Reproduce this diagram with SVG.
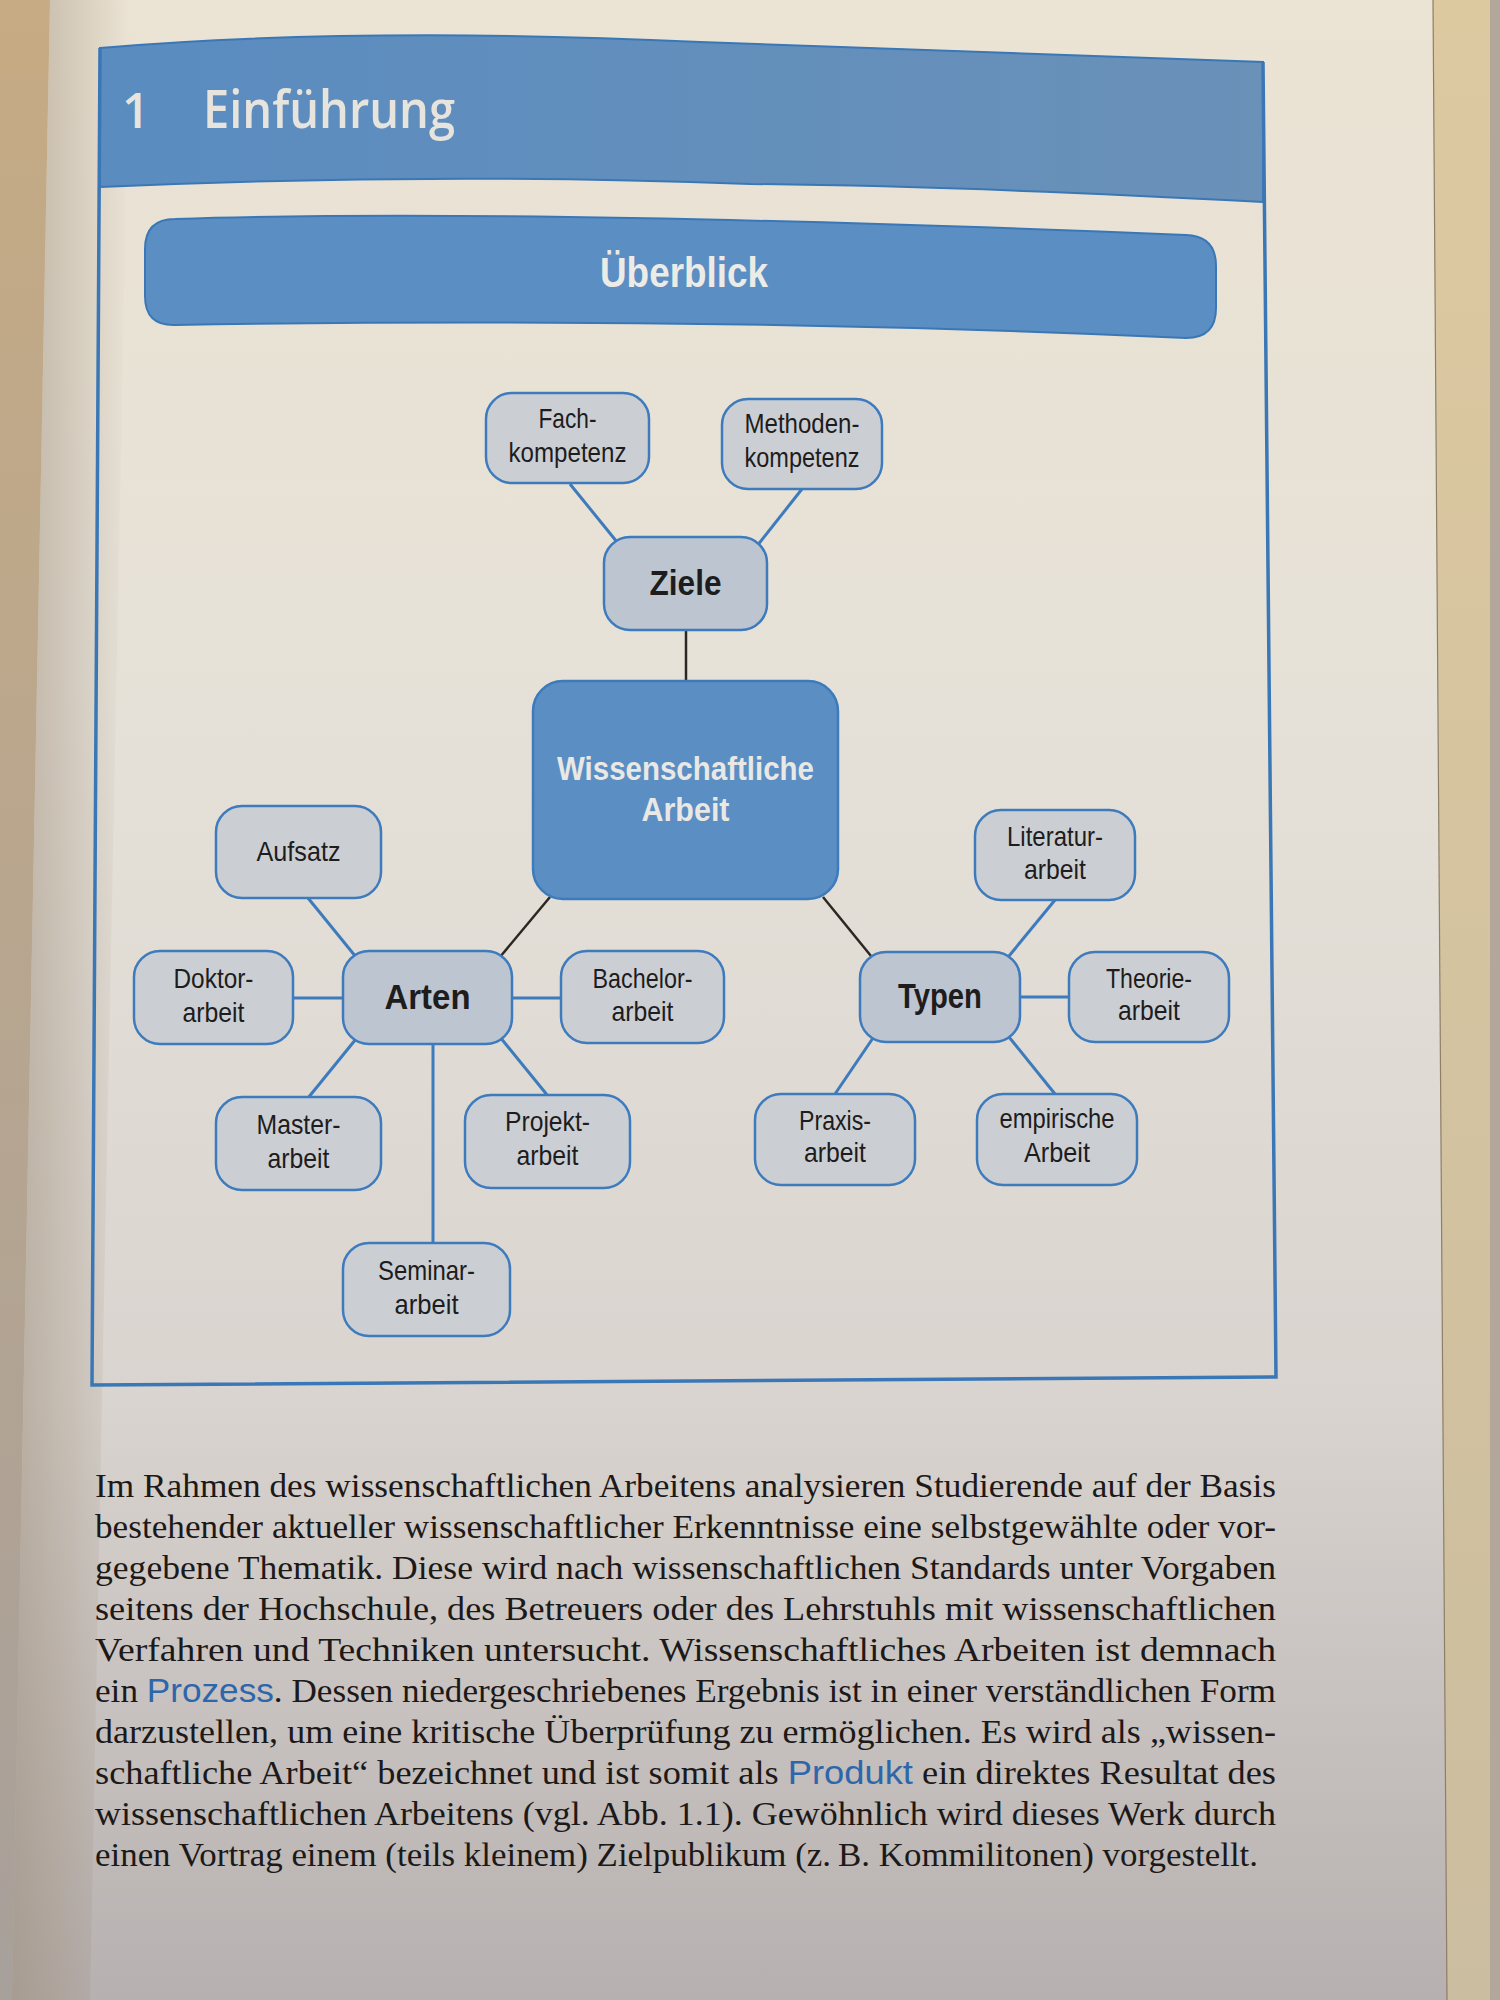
<svg xmlns="http://www.w3.org/2000/svg" width="1500" height="2000" viewBox="0 0 1500 2000">
<defs>
<linearGradient id="pageGrad" x1="0" y1="0" x2="0" y2="1">
<stop offset="0" stop-color="#ebe3d3"/>
<stop offset="0.35" stop-color="#e6e1d8"/>
<stop offset="0.7" stop-color="#d9d4cf"/>
<stop offset="1" stop-color="#b6b0b0"/>
</linearGradient>
<linearGradient id="leftShade" x1="0" y1="0" x2="1" y2="0">
<stop offset="0" stop-color="#9c8c78" stop-opacity="0.55"/>
<stop offset="1" stop-color="#9c8c78" stop-opacity="0"/>
</linearGradient>
<linearGradient id="edgeL" x1="0" y1="0" x2="0" y2="1">
<stop offset="0" stop-color="#c6ab84"/>
<stop offset="1" stop-color="#a8a09b"/>
</linearGradient>
<linearGradient id="edgeR" x1="0" y1="0" x2="0" y2="1">
<stop offset="0" stop-color="#ddc9a0"/>
<stop offset="1" stop-color="#cbbd9f"/>
</linearGradient>
<linearGradient id="bandGrad" x1="0" y1="0" x2="1" y2="0">
<stop offset="0" stop-color="#5a8cc0"/>
<stop offset="1" stop-color="#6a91b8"/>
</linearGradient>
</defs>
<style>
.leaf rect{fill:#cbcfd4;stroke:#3d7bbd;stroke-width:2.5}
.hub rect{fill:#bcc5d0;stroke:#3d7bbd;stroke-width:2.5}
.lt{font-family:"Liberation Sans",Arial,sans-serif;font-size:28px;fill:#1e1c1c;text-anchor:middle}
.ht{font-family:"Liberation Sans",Arial,sans-serif;font-size:35px;font-weight:bold;fill:#1e1c1c;text-anchor:middle}
.ct{font-family:"Liberation Sans",Arial,sans-serif;font-size:33px;font-weight:bold;fill:#e9e8e4;text-anchor:middle}
.cb{stroke:#3d7bbd;stroke-width:3;fill:none}
.ck{stroke:#2b2724;stroke-width:2.5;fill:none}
.body{font-family:"Liberation Serif","Times New Roman",serif;font-size:34px;fill:#1c1918}
.blue{font-family:"Liberation Sans",Arial,sans-serif;fill:#2d66aa}
</style>

<!-- background / page -->
<rect x="0" y="0" width="1500" height="2000" fill="#b3a69a"/>
<polygon points="1425,0 1490,0 1490,2000 1440,2000" fill="url(#edgeR)"/>
<polygon points="0,0 1433,0 1447,2000 0,2000" fill="url(#edgeL)"/>
<polygon points="50,0 1433,0 1447,2000 12,2000" fill="url(#pageGrad)"/>
<polygon points="50,0 130,0 90,2000 12,2000" fill="url(#leftShade)"/>
<path d="M1433,0 L1447,2000" stroke="#8e7f66" stroke-width="1.2" fill="none"/>

<!-- header band and frame -->
<g id="header">
<path d="M100,48 Q360,26 700,42 Q1000,52 1263,62 L1263,202 Q960,186 750,184 Q430,172 100,187 Z" fill="url(#bandGrad)" stroke="#3a77b6" stroke-width="2"/>
<text x="122" y="128" font-family="Open Sans, Liberation Sans, sans-serif" font-weight="600" font-size="48" fill="#e7e4dd">1</text>
<text x="203" y="128" font-family="Open Sans, Liberation Sans, sans-serif" font-weight="600" font-size="52" fill="#e7e4dd" textLength="252" lengthAdjust="spacingAndGlyphs">Einführung</text>
</g>
<path id="frame" d="M100,48 L92,1385 L1276,1377 L1263,62" fill="none" stroke="#3a77b6" stroke-width="3.5"/>

<g id="ueberblick">
<path d="M175,219 Q520,208 1186,235 Q1216,236 1216,266 L1216,308 Q1216,338 1186,338 Q700,316 175,325 Q145,326 145,296 L145,249 Q145,219 175,219 Z" fill="#5b8ec3" stroke="#3a77b6" stroke-width="2"/>
<text x="684" y="287" font-family="Liberation Sans, Arial, sans-serif" font-weight="bold" font-size="42" fill="#ecebe6" text-anchor="middle" textLength="168" lengthAdjust="spacingAndGlyphs">Überblick</text>
</g>

<!-- connectors -->
<g id="connectors">
<line class="cb" x1="570" y1="484" x2="617" y2="542"/>
<line class="cb" x1="802" y1="489" x2="757" y2="546"/>
<line class="ck" x1="686" y1="630" x2="686" y2="682"/>
<line class="ck" x1="550" y1="897" x2="500" y2="957"/>
<line class="ck" x1="823" y1="897" x2="871" y2="956"/>
<line class="cb" x1="308" y1="898" x2="356" y2="957"/>
<line class="cb" x1="293" y1="998" x2="344" y2="998"/>
<line class="cb" x1="512" y1="998" x2="561" y2="998"/>
<line class="cb" x1="308" y1="1098" x2="356" y2="1039"/>
<line class="cb" x1="548" y1="1096" x2="500" y2="1037"/>
<line class="cb" x1="433" y1="1043" x2="433" y2="1243"/>
<line class="cb" x1="1055" y1="900" x2="1009" y2="956"/>
<line class="cb" x1="1020" y1="997" x2="1069" y2="997"/>
<line class="cb" x1="873" y1="1038" x2="835" y2="1094"/>
<line class="cb" x1="1009" y1="1037" x2="1055" y2="1094"/>
</g>

<!-- nodes -->
<g id="fachkompetenz" class="leaf">
<rect x="486" y="393" width="163" height="90" rx="26"/>
<text class="lt" x="567.5" y="428" textLength="58" lengthAdjust="spacingAndGlyphs">Fach-</text>
<text class="lt" x="567.5" y="462" textLength="118" lengthAdjust="spacingAndGlyphs">kompetenz</text>
</g>
<g id="methodenkompetenz" class="leaf">
<rect x="722" y="399" width="160" height="90" rx="26"/>
<text class="lt" x="802" y="433" textLength="115" lengthAdjust="spacingAndGlyphs">Methoden-</text>
<text class="lt" x="802" y="467" textLength="115" lengthAdjust="spacingAndGlyphs">kompetenz</text>
</g>
<g id="ziele" class="hub">
<rect x="604" y="537" width="163" height="93" rx="26"/>
<text class="ht" x="685.5" y="595" textLength="72" lengthAdjust="spacingAndGlyphs">Ziele</text>
</g>
<g id="wissenschaftliche-arbeit">
<rect x="533" y="681" width="305" height="218" rx="30" fill="#5b8ec3" stroke="#3d7bbd" stroke-width="2.5"/>
<text class="ct" x="685.5" y="780" textLength="257" lengthAdjust="spacingAndGlyphs">Wissenschaftliche</text>
<text class="ct" x="685.5" y="821" textLength="88" lengthAdjust="spacingAndGlyphs">Arbeit</text>
</g>
<g id="aufsatz" class="leaf">
<rect x="216" y="806" width="165" height="92" rx="26"/>
<text class="lt" x="298.5" y="861" textLength="84" lengthAdjust="spacingAndGlyphs">Aufsatz</text>
</g>
<g id="doktorarbeit" class="leaf">
<rect x="134" y="951" width="159" height="93" rx="26"/>
<text class="lt" x="213.5" y="988" textLength="80" lengthAdjust="spacingAndGlyphs">Doktor-</text>
<text class="lt" x="213.5" y="1022" textLength="62" lengthAdjust="spacingAndGlyphs">arbeit</text>
</g>
<g id="arten" class="hub">
<rect x="343" y="951" width="169" height="93" rx="26"/>
<text class="ht" x="427.5" y="1009" textLength="86" lengthAdjust="spacingAndGlyphs">Arten</text>
</g>
<g id="bachelorarbeit" class="leaf">
<rect x="561" y="951" width="163" height="92" rx="26"/>
<text class="lt" x="642.5" y="988" textLength="100" lengthAdjust="spacingAndGlyphs">Bachelor-</text>
<text class="lt" x="642.5" y="1021" textLength="62" lengthAdjust="spacingAndGlyphs">arbeit</text>
</g>
<g id="masterarbeit" class="leaf">
<rect x="216" y="1097" width="165" height="93" rx="26"/>
<text class="lt" x="298.5" y="1134" textLength="84" lengthAdjust="spacingAndGlyphs">Master-</text>
<text class="lt" x="298.5" y="1168" textLength="62" lengthAdjust="spacingAndGlyphs">arbeit</text>
</g>
<g id="projektarbeit" class="leaf">
<rect x="465" y="1095" width="165" height="93" rx="26"/>
<text class="lt" x="547.5" y="1131" textLength="85" lengthAdjust="spacingAndGlyphs">Projekt-</text>
<text class="lt" x="547.5" y="1165" textLength="62" lengthAdjust="spacingAndGlyphs">arbeit</text>
</g>
<g id="seminararbeit" class="leaf">
<rect x="343" y="1243" width="167" height="93" rx="26"/>
<text class="lt" x="426.5" y="1280" textLength="97" lengthAdjust="spacingAndGlyphs">Seminar-</text>
<text class="lt" x="426.5" y="1314" textLength="64" lengthAdjust="spacingAndGlyphs">arbeit</text>
</g>
<g id="literaturarbeit" class="leaf">
<rect x="975" y="810" width="160" height="90" rx="26"/>
<text class="lt" x="1055" y="846" textLength="96" lengthAdjust="spacingAndGlyphs">Literatur-</text>
<text class="lt" x="1055" y="879" textLength="62" lengthAdjust="spacingAndGlyphs">arbeit</text>
</g>
<g id="typen" class="hub">
<rect x="860" y="952" width="160" height="90" rx="26"/>
<text class="ht" x="940" y="1008" textLength="84" lengthAdjust="spacingAndGlyphs">Typen</text>
</g>
<g id="theoriearbeit" class="leaf">
<rect x="1069" y="952" width="160" height="90" rx="26"/>
<text class="lt" x="1149" y="988" textLength="86" lengthAdjust="spacingAndGlyphs">Theorie-</text>
<text class="lt" x="1149" y="1020" textLength="62" lengthAdjust="spacingAndGlyphs">arbeit</text>
</g>
<g id="praxisarbeit" class="leaf">
<rect x="755" y="1094" width="160" height="91" rx="26"/>
<text class="lt" x="835" y="1130" textLength="72" lengthAdjust="spacingAndGlyphs">Praxis-</text>
<text class="lt" x="835" y="1162" textLength="62" lengthAdjust="spacingAndGlyphs">arbeit</text>
</g>
<g id="empirische-arbeit" class="leaf">
<rect x="977" y="1094" width="160" height="91" rx="26"/>
<text class="lt" x="1057" y="1128" textLength="115" lengthAdjust="spacingAndGlyphs">empirische</text>
<text class="lt" x="1057" y="1162" textLength="66" lengthAdjust="spacingAndGlyphs">Arbeit</text>
</g>

<!-- body text -->
<g id="body" class="body">
<text x="95" y="1497" textLength="1181" lengthAdjust="spacingAndGlyphs">Im Rahmen des wissenschaftlichen Arbeitens analysieren Studierende auf der Basis</text>
<text x="95" y="1538" textLength="1181" lengthAdjust="spacingAndGlyphs">bestehender aktueller wissenschaftlicher Erkenntnisse eine selbstgewählte oder vor-</text>
<text x="95" y="1579" textLength="1181" lengthAdjust="spacingAndGlyphs">gegebene Thematik. Diese wird nach wissenschaftlichen Standards unter Vorgaben</text>
<text x="95" y="1620" textLength="1181" lengthAdjust="spacingAndGlyphs">seitens der Hochschule, des Betreuers oder des Lehrstuhls mit wissenschaftlichen</text>
<text x="95" y="1661" textLength="1181" lengthAdjust="spacingAndGlyphs">Verfahren und Techniken untersucht. Wissenschaftliches Arbeiten ist demnach</text>
<text x="95" y="1702" textLength="1181" lengthAdjust="spacingAndGlyphs">ein <tspan class="blue">Prozess</tspan>. Dessen niedergeschriebenes Ergebnis ist in einer verständlichen Form</text>
<text x="95" y="1743" textLength="1181" lengthAdjust="spacingAndGlyphs">darzustellen, um eine kritische Überprüfung zu ermöglichen. Es wird als „wissen-</text>
<text x="95" y="1784" textLength="1181" lengthAdjust="spacingAndGlyphs">schaftliche Arbeit“ bezeichnet und ist somit als <tspan class="blue">Produkt</tspan> ein direktes Resultat des</text>
<text x="95" y="1825" textLength="1181" lengthAdjust="spacingAndGlyphs">wissenschaftlichen Arbeitens (vgl. Abb. 1.1). Gewöhnlich wird dieses Werk durch</text>
<text x="95" y="1866" textLength="1163" lengthAdjust="spacingAndGlyphs">einen Vortrag einem (teils kleinem) Zielpublikum (z.&#8201;B. Kommilitonen) vorgestellt.</text>
</g>
</svg>
